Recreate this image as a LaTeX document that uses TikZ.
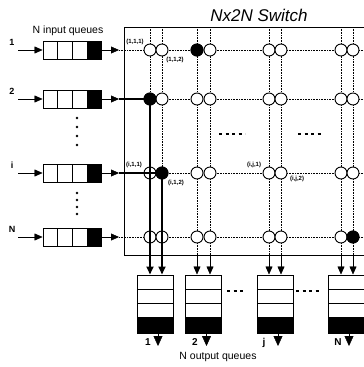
\documentclass[tikz,border=0pt]{standalone}
\usepackage{fontspec}
\setmainfont{Liberation Sans}
\usetikzlibrary{arrows.meta,positioning}

\tikzset{
  cell/.style={draw, line width=1pt, minimum width=14.75pt, minimum height=18pt, inner sep=0pt},
  hol/.style={cell, fill=black},
  ocell/.style={draw, line width=1pt, minimum width=36pt, minimum height=14pt, inner sep=0pt},
  ohol/.style={ocell, fill=black, minimum height=16pt},
  xp/.style={draw, circle, line width=0.9pt, minimum size=12pt, inner sep=0pt, fill=white},
  xpon/.style={xp, fill=black},
  grid/.style={densely dotted, line width=0.6pt},
  bus/.style={line width=1.8pt},
  ellip/.style={dash pattern=on 3pt off 3.5pt, line width=1.2pt},
  tag/.style={font=\fontsize{6}{6}\selectfont\bfseries, inner sep=0pt},
  num/.style={font=\fontsize{9}{9}\selectfont\bfseries, inner sep=0pt},
  qlabel/.style={font=\fontsize{10.5}{10.5}\selectfont, inner sep=0pt},
}

\begin{document}
\begin{tikzpicture}[x=1pt, y=-1pt, >={Triangle[length=8pt,width=7pt]}]
    \useasboundingbox (0,0) rectangle (364,367);

    \node[font=\fontsize{17}{17}\selectfont\itshape, inner sep=0pt] (title) at (259,15) {Nx2N Switch};
    \node[qlabel] (inlbl) at (68,31) {N input queues};
    \node[qlabel] (outlbl) at (218,357) {N output queues};

    % switch frame
    \draw[line width=1pt] (364,27) -- (124,27) -- (124,255) -- (364,255);

    % column ends on the frame
    \foreach \c/\x in {1/150, 2/162, 3/197, 4/210, 5/269, 6/281, 7/341, 8/353} {
        \coordinate (t\c) at (\x,27);
        \coordinate (b\c) at (\x,255);
        \draw[grid] (t\c) -- (b\c);
    }

    % input queues and rows
    \foreach \r/\y in {1/50, 2/99, i/173, N/237} {
        \foreach \k/\x in {1/50.4, 2/65.1, 3/79.9}
            \node[cell] (q\r-\k) at (\x,\y) {};
        \node[hol] (q\r-4) at (94.6,\y) {};
        \node[num] (n\r) at (12,\y-8) {\r};
        \coordinate (s\r) at (18,\y);
        \coordinate (e\r) at (119,\y);
        \coordinate (f\r) at (364,\y);
        \draw[->] (s\r) -- (q\r-1);
        \draw[->] (q\r-4) -- (e\r);
        \draw[grid] (e\r) -- (f\r);
        \foreach \c/\x in {1/150, 2/162, 3/197, 4/210, 5/269, 6/281, 7/341, 8/353}
            \node[xp] (x\r-\c) at (\x,\y) {};
    }

    % output queues
    \foreach \k/\x in {1/155, 2/203.5, j/275, N/346} {
        \node[ocell] (o\k-1) at (\x,282) {};
        \node[ocell] (o\k-2) at (\x,296) {};
        \node[ocell] (o\k-3) at (\x,310) {};
        \node[ohol] (o\k-4) at (\x,325) {};
        \coordinate (d\k) at (\x+3,346);
        \draw[-{Triangle[length=10pt,width=9pt]}] (d\k |- o\k-4.south) -- (d\k);
    }
    \node[num, font=\fontsize{10}{10}\selectfont\bfseries] (m1) at (148,342) {1};
    \node[num, font=\fontsize{10}{10}\selectfont\bfseries] (m2) at (195,342) {2};
    \node[num, font=\fontsize{10}{10}\selectfont\bfseries] (mj) at (264,343) {j};
    \node[num, font=\fontsize{10}{10}\selectfont\bfseries] (mN) at (338,342) {N};

    % columns into their output queue
    \foreach \c/\k in {3/2, 4/2, 5/j, 6/j, 7/N, 8/N}
        \draw[->] (b\c) -- (b\c |- o\k-1.north);

    % granted paths
    \draw[bus] (e2) -- (x2-1);
    \draw[bus, ->] (x2-1) -- (x2-1 |- o1-1.north);
    \draw[bus] (ei) -- (xi-2);
    \draw[bus, ->] (xi-2) -- (xi-2 |- o1-1.north);
    \node[xpon] (p1) at (x1-3) {};
    \node[xpon] (p2) at (x2-1) {};
    \node[xpon] (p3) at (xi-2) {};
    \node[xpon] (p4) at (xN-8) {};

    % crosspoint tags
    \node[tag] (a1) at (135,42) {(1,1,1)};
    \node[tag] (a2) at (175,60) {(1,1,2)};
    \node[tag] (a3) at (134,165) {(i,1,1)};
    \node[tag] (a4) at (176,183) {(i,1,2)};
    \node[tag] (a5) at (254,165) {(i,j,1)};
    \node[tag] (a6) at (297,179) {(i,j,2)};

    % ellipses
    \foreach \y in {118, 127, 136, 145, 193, 200, 207, 214}
        \fill (77,\y) circle (1.3pt);
    \draw[ellip] (219,134) -- (245,134);
    \draw[ellip] (298,134) -- (324,134);
    \draw[ellip] (227,291) -- (245,291);
    \draw[ellip] (296,291) -- (322,291);
\end{tikzpicture}
\end{document}
